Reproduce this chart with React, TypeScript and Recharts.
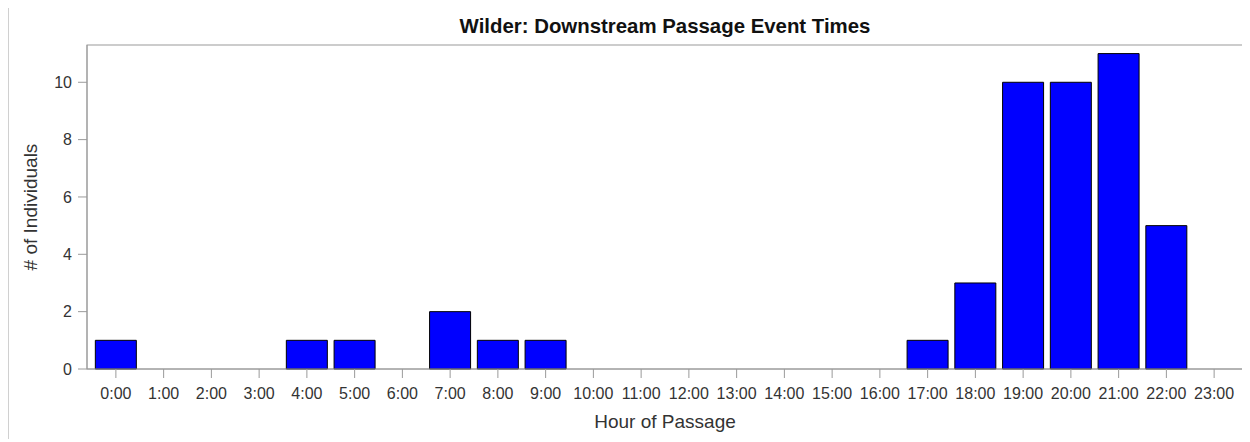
import * as Recharts from "recharts";
import { Bar, BarChart, XAxis, YAxis, Label } from "recharts";

const hours = [
  "0:00", "1:00", "2:00", "3:00", "4:00", "5:00", "6:00", "7:00",
  "8:00", "9:00", "10:00", "11:00", "12:00", "13:00", "14:00", "15:00",
  "16:00", "17:00", "18:00", "19:00", "20:00", "21:00", "22:00", "23:00",
];
const individuals = [1, 0, 0, 0, 1, 1, 0, 2, 1, 1, 0, 0, 0, 0, 0, 0, 0, 1, 3, 10, 10, 11, 5, 0];
const yTicks = [0, 2, 4, 6, 8, 10];

const data = hours.map((hour, i) => ({ hour, count: individuals[i] }));

const font = "'Liberation Sans', Arial, sans-serif";
const frame = "#9a9a9a";

const usePlotArea: () => any =
  (Recharts as any).usePlotArea ?? (Recharts as any).useOffset ?? (() => null);

// box around the plot area (top and right edges included)
function PlotFrame() {
  const area = usePlotArea();
  if (!area) return null;
  const x = area.x ?? area.left;
  const y = area.y ?? area.top;
  const w = area.width;
  const h = area.height;
  if (x == null || y == null || w == null || h == null) return null;
  return <rect x={x} y={y} width={w} height={h} fill="none" stroke={frame} />;
}

export default function App() {
  return (
    <div
      style={{
        width: 1242,
        height: 434,
        marginTop: -3,
        overflow: "hidden",
        position: "relative",
        fontFamily: font,
      }}
    >
      <div
        style={{
          position: "absolute",
          left: 0,
          top: 0,
          width: 1260,
          height: 460,
          border: "1px solid #d0d0d0",
          boxSizing: "border-box",
        }}
      />
      <div
        style={{
          position: "absolute",
          left: 0,
          top: 11.2,
          width: 1314,
          textAlign: "center",
          fontSize: 20.4,
          lineHeight: "20.4px",
          fontWeight: "bold",
          color: "#111",
        }}
      >
        Wilder: Downstream Passage Event Times
      </div>
      <div style={{ position: "absolute", left: 0, top: 0 }}>
        <BarChart
          width={1242}
          height={434}
          data={data}
          margin={{ top: 40, right: 7, bottom: 0, left: 0 }}
          barCategoryGap="7%"
          style={{ fontFamily: font }}
        >
          <XAxis
            dataKey="hour"
            height={70}
            interval={0}
            padding={{ left: 5, right: 5 }}
            tickSize={9}
            tickMargin={9.5}
            tick={{ fontSize: 16, fill: "#333" }}
            tickLine={{ stroke: frame }}
            axisLine={{ stroke: frame }}
          >
            <Label
              value="Hour of Passage"
              position="insideBottom"
              offset={11}
              style={{ fontSize: 19, fill: "#333", fontFamily: font }}
            />
          </XAxis>
          <YAxis
            width={79}
            domain={[0, 11.3]}
            ticks={yTicks}
            tickSize={9}
            tickMargin={6}
            tick={{ fontSize: 16, fill: "#333" }}
            tickLine={{ stroke: frame }}
            axisLine={{ stroke: frame }}
          >
            <Label
              value="# of Individuals"
              angle={-90}
              position="insideLeft"
              offset={22}
              style={{ fontSize: 19, fill: "#333", textAnchor: "middle", fontFamily: font }}
            />
          </YAxis>
          <Bar
            dataKey="count"
            fill="#0000ff"
            stroke="#000"
            strokeWidth={1}
            isAnimationActive={false}
          />
          <PlotFrame />
        </BarChart>
      </div>
    </div>
  );
}
